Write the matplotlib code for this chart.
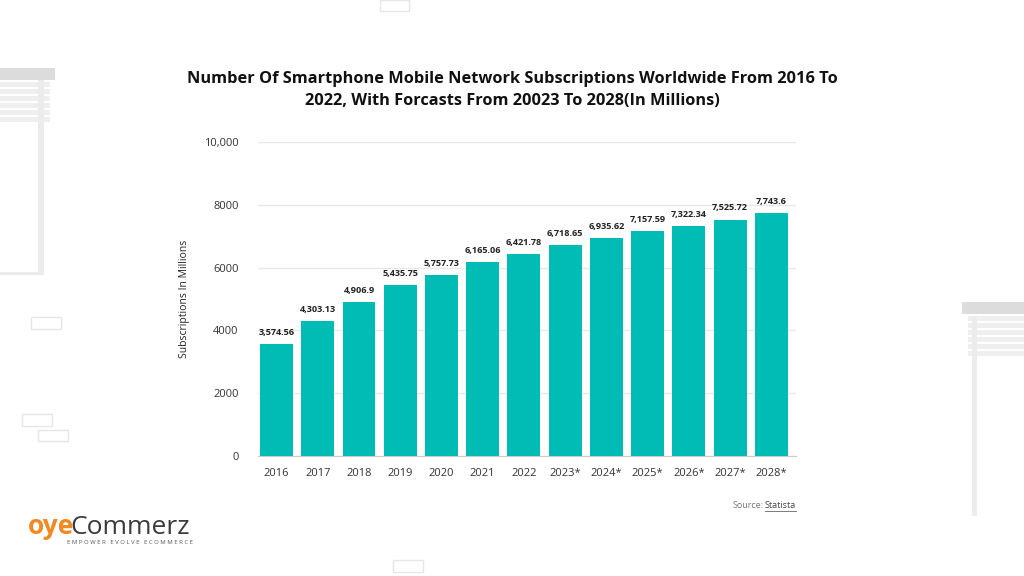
import matplotlib.pyplot as plt
from matplotlib.patches import Rectangle
from matplotlib.lines import Line2D

# data
years = ['2016', '2017', '2018', '2019', '2020', '2021', '2022',
         '2023*', '2024*', '2025*', '2026*', '2027*', '2028*']
subs = [3574.56, 4303.13, 4906.9, 5435.75, 5757.73, 6165.06, 6421.78,
        6718.65, 6935.62, 7157.59, 7322.34, 7525.72, 7743.6]
labels = ['3,574.56', '4,303.13', '4,906.9', '5,435.75', '5,757.73', '6,165.06',
          '6,421.78', '6,718.65', '6,935.62', '7,157.59', '7,322.34', '7,525.72', '7,743.6']
yticks = [0, 2000, 4000, 6000, 8000, 10000]
ytick_labels = ['0', '2000', '4000', '6000', '8000', '10,000']

plt.rcParams['font.family'] = ['Open Sans', 'DejaVu Sans']

fig = plt.figure(figsize=(10.24, 5.76), dpi=100)
fig.patch.set_facecolor('white')

# decorative background shapes (blinds / boxes)
def box(x, y, w, h, fc='none', ec='#e6e6e6', lw=1.0):
    fig.patches.append(Rectangle((x / 1024, 1 - (y + h) / 576), w / 1024, h / 576,
                                 transform=fig.transFigure, fc=fc, ec=ec, lw=lw, zorder=0))

box(0, 68, 55, 12, fc='#dcdcdc', ec='none')
for k in range(6):
    box(0, 82 + k * 7, 50, 5, fc='#efefef', ec='none')
box(38, 80, 6, 195, fc='#ececec', ec='none')
box(0, 272, 44, 3, fc='#ececec', ec='none')
box(962, 302, 62, 12, fc='#dcdcdc', ec='none')
for k in range(6):
    box(968, 316 + k * 7, 56, 5, fc='#efefef', ec='none')
box(972, 316, 5, 200, fc='#ececec', ec='none')
box(380, 0, 29, 11)
box(31, 317, 30, 12)
box(22, 414, 30, 12)
box(38, 430, 30, 11)
box(393, 560, 30, 12)

ax = fig.add_axes([258 / 1024, 1 - 456 / 576, (796 - 258) / 1024, (456 - 142) / 576])
x = range(len(years))
ax.bar(x, subs, width=0.8, color='#00BCB5', zorder=3)
for i, (v, t) in enumerate(zip(subs, labels)):
    ax.text(i, v + 230, t, ha='center', va='bottom', fontsize=6.6,
            fontweight='bold', color='#222222', zorder=4)

ax.set_xlim(-0.45, 12.6)
ax.set_ylim(0, 10000)
ax.set_yticks(yticks)
ax.set_yticklabels(ytick_labels)
ax.set_xticks(list(x))
ax.set_xticklabels(years)
ax.tick_params(axis='both', length=0, labelsize=8, colors='#333333')
ax.tick_params(axis='x', pad=9)
ax.tick_params(axis='y', pad=14)
ax.grid(axis='y', color='#e8e8e8', lw=1, zorder=0)
for s in ['top', 'right', 'left']:
    ax.spines[s].set_visible(False)
ax.spines['bottom'].set_color('#cccccc')
ax.set_ylabel('Subscriptions In Millions', fontsize=7.5, color='#222222', labelpad=10)

fig.text(0.5, 1 - 90 / 576,
         'Number Of Smartphone Mobile Network Subscriptions Worldwide From 2016 To\n'
         '2022, With Forcasts From 20023 To 2028(In Millions)',
         ha='center', va='center', fontsize=11.8, fontweight='bold', color='#111111',
         linespacing=1.45)

# source note
fig.text(796 / 1024, 1 - 506 / 576, 'Statista', ha='right', va='center',
         fontsize=6.5, color='#444444')
fig.text(764 / 1024, 1 - 506 / 576, 'Source:', ha='right', va='center',
         fontsize=6.5, color='#777777')
fig.lines.append(Line2D([765 / 1024, 796 / 1024], [1 - 511 / 576, 1 - 511 / 576],
                        transform=fig.transFigure, color='#666666', lw=0.6))

# logo
fig.text(28 / 1024, 1 - 527 / 576, 'oye', ha='left', va='center', fontsize=19,
         color='#F08A24', fontweight='bold')
fig.text(70 / 1024, 1 - 527 / 576, 'Commerz', ha='left', va='center', fontsize=19,
         color='#3a3a3a')
fig.text(67 / 1024, 1 - 543 / 576, 'E M P O W E R   E V O L V E   E C O M M E R C E',
         ha='left', va='center', fontsize=4.3, color='#555555')

fig.savefig('out.png', dpi=100, facecolor='white')
